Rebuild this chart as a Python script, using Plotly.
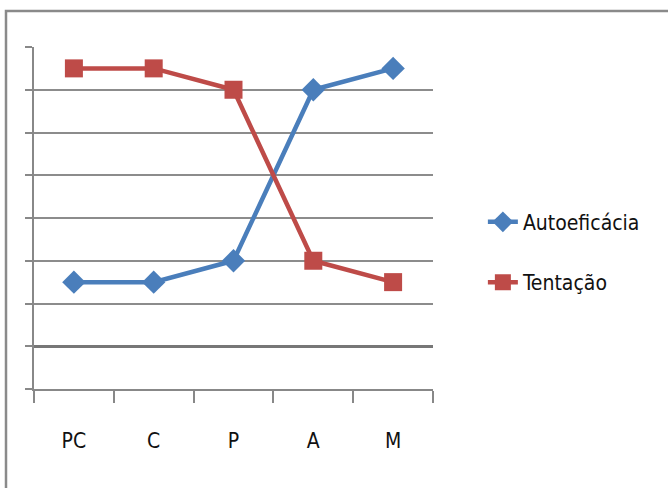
import plotly.graph_objects as go

categories = ["PC", "C", "P", "A", "M"]
autoeficacia = [1.5, 1.5, 2, 6, 6.5]
tentacao = [6.5, 6.5, 6, 2, 1.5]

FONT = "DejaVu Sans Condensed, Open Sans, sans-serif"

fig = go.Figure()
fig.add_trace(go.Scatter(
    x=categories, y=autoeficacia, name="Autoeficácia", mode="lines+markers",
    line=dict(color="#4A7EBB", width=4.5),
    marker=dict(symbol="diamond", size=18, color="#4A7EBB"),
    legendgroup="a"))
fig.add_trace(go.Scatter(
    x=categories, y=tentacao, name="Tentação", mode="lines+markers",
    line=dict(color="#BE4B48", width=4.5),
    marker=dict(symbol="square", size=18, color="#BE4B48"),
    legendgroup="b"))

fig.update_layout(
    width=668, height=488,
    margin=dict(l=34, r=235, t=47, b=99),
    paper_bgcolor="white", plot_bgcolor="white",
    font=dict(family=FONT, size=21, color="#111"),
    showlegend=True,
    legend=dict(x=1.125, y=0.40, xanchor="left", yanchor="middle",
                font=dict(size=21), tracegroupgap=30, bgcolor="rgba(0,0,0,0)"),
    xaxis=dict(type="category", range=[-0.5, 4.5], tickson="boundaries",
               ticks="outside", ticklen=12, tickcolor="#888", tickwidth=1.5,
               showline=True, linecolor="#888", linewidth=1.5,
               showgrid=False, ticklabelstandoff=32,
               tickfont=dict(size=21, family=FONT)),
    yaxis=dict(range=[-1, 7], dtick=1, showticklabels=False,
               ticks="outside", ticklen=7, tickcolor="#888", tickwidth=1.5,
               showline=True, linecolor="#888", linewidth=1.5,
               showgrid=True, gridcolor="#8c8c8c", gridwidth=1.5,
               zeroline=True, zerolinecolor="#777", zerolinewidth=2.5),
)

fig.add_shape(type="rect", xref="paper", yref="paper",
              x0=-28/399, x1=1.0 + 245/399, y0=-110/342, y1=1.0 + 36/342,
              line=dict(color="#8a8a8a", width=2.5), layer="below")

fig.write_html("out.html", config={"displayModeBar": False},
               post_script="document.body.style.margin='0';")
